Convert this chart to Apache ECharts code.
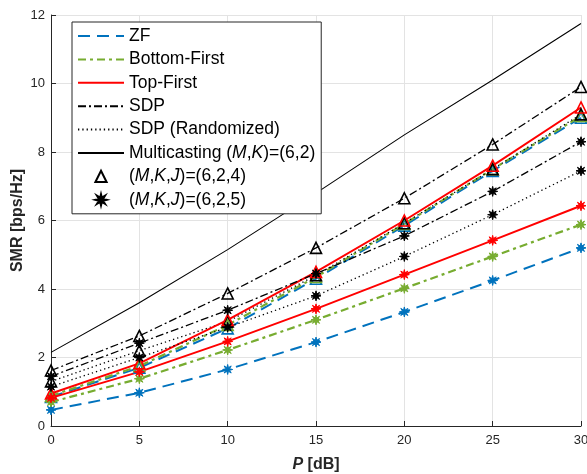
<!DOCTYPE html>
<html>
<head>
<meta charset="utf-8">
<script src="https://cdn.jsdelivr.net/npm/echarts@6/dist/echarts.min.js"></script>
<style>
html, body { margin: 0; padding: 0; background: #fff; }
#main { width: 587px; height: 474px; }
</style>
</head>
<body>
<div id="main"></div>
<script>
var powerDb = [0, 5, 10, 15, 20, 25, 30];

// multicasting upper bound
var multicast = [2.15, 3.6, 5.15, 6.8, 8.5, 10.1, 11.75];

// (M,K,J) = (6,2,4)
var zf4   = [0.85, 1.70, 2.85, 4.30, 5.85, 7.45, 9.00];
var bf4   = [0.88, 1.75, 2.95, 4.35, 5.90, 7.50, 9.05];
var tf4   = [0.95, 1.83, 3.10, 4.50, 6.00, 7.60, 9.30];
var sdp4  = [1.62, 2.63, 3.87, 5.20, 6.65, 8.22, 9.90];
var sdpr4 = [1.30, 2.20, 3.05, 4.40, 5.92, 7.50, 9.10];

// (M,K,J) = (6,2,5)
var zf5   = [0.47, 0.97, 1.65, 2.45, 3.33, 4.25, 5.20];
var bf5   = [0.70, 1.38, 2.22, 3.10, 4.02, 4.95, 5.88];
var tf5   = [0.82, 1.58, 2.47, 3.42, 4.42, 5.42, 6.43];
var sdp5  = [1.45, 2.42, 3.38, 4.45, 5.55, 6.85, 8.30];
var sdpr5 = [1.15, 2.00, 2.88, 3.80, 4.95, 6.17, 7.45];

var legendNames = ['ZF', 'Bottom-First', 'Top-First', 'SDP', 'SDP (Randomized)',
	'Multicasting (M,K)=(6,2)', '(M,K,J)=(6,2,4)', '(M,K,J)=(6,2,5)'];
var legendLabels = {
	'Multicasting (M,K)=(6,2)': 'Multicasting ({i|M},{i|K})=(6,2)',
	'(M,K,J)=(6,2,4)': '({i|M},{i|K},{i|J})=(6,2,4)',
	'(M,K,J)=(6,2,5)': '({i|M},{i|K},{i|J})=(6,2,5)'
};

var BLUE = '#0072BD', GREEN = '#77AC30', RED = '#FF0000', BLACK = '#000000';
var STAR = 'path://M10 0L11.53 6.3L17.07 2.93L13.7 8.47L20 10L13.7 11.53L17.07 17.07L11.53 13.7L10 20L8.47 13.7L2.93 17.07L6.3 11.53L0 10L6.3 8.47L2.93 2.93L8.47 6.3Z';

var styles = {
	zf:   {color: BLUE,  width: 2,   type: [12, 7]},
	bf:   {color: GREEN, width: 2.2, type: [8, 4, 3, 4]},
	tf:   {color: RED,   width: 2,   type: 'solid'},
	sdp:  {color: BLACK, width: 1.3, type: [8, 3, 2, 3]},
	sdpr: {color: BLACK, width: 1.3, type: [1.3, 3]}
};

function pairs(ys) {
	var out = [];
	for (var i = 0; i < powerDb.length; i++) {
		out.push([powerDb[i], ys[i]]);
	}
	return out;
}

function triSeries(name, key, ys) {
	var s = styles[key];
	return {
		name: name, type: 'line', data: pairs(ys),
		symbol: 'triangle', symbolSize: 11,
		itemStyle: {color: 'rgba(0,0,0,0)', borderColor: s.color, borderWidth: 1.6},
		lineStyle: {color: s.color, width: s.width, type: s.type}
	};
}

function starSeries(name, key, ys) {
	var s = styles[key];
	return {
		name: name, type: 'line', data: pairs(ys),
		symbol: STAR, symbolSize: 10,
		itemStyle: {color: s.color, borderColor: s.color, borderWidth: 1},
		lineStyle: {color: s.color, width: s.width, type: s.type}
	};
}

function legendLine(name, key) {
	var s = styles[key];
	return {
		name: name, type: 'line', data: [], symbol: 'none',
		itemStyle: {color: s.color},
		lineStyle: {color: s.color, width: s.width, type: s.type}
	};
}

var series = [
	{
		name: 'mc', type: 'line', data: pairs(multicast), symbol: 'none',
		lineStyle: {color: BLACK, width: 1.1}
	},
	triSeries('zf4', 'zf', zf4),
	triSeries('bf4', 'bf', bf4),
	triSeries('sdpr4', 'sdpr', sdpr4),
	triSeries('sdp4', 'sdp', sdp4),
	triSeries('tf4', 'tf', tf4),
	starSeries('zf5', 'zf', zf5),
	starSeries('bf5', 'bf', bf5),
	starSeries('tf5', 'tf', tf5),
	starSeries('sdp5', 'sdp', sdp5),
	starSeries('sdpr5', 'sdpr', sdpr5),
	// entries only for the legend
	legendLine('ZF', 'zf'),
	legendLine('Bottom-First', 'bf'),
	legendLine('Top-First', 'tf'),
	legendLine('SDP', 'sdp'),
	legendLine('SDP (Randomized)', 'sdpr'),
	{
		name: 'Multicasting (M,K)=(6,2)', type: 'line', data: [], symbol: 'none',
		itemStyle: {color: BLACK}, lineStyle: {color: BLACK, width: 1.1}
	},
	{
		name: '(M,K,J)=(6,2,4)', type: 'line', data: [], symbol: 'triangle',
		itemStyle: {color: 'rgba(0,0,0,0)', borderColor: BLACK, borderWidth: 2},
		lineStyle: {color: 'rgba(0,0,0,0)', width: 1}
	},
	{
		name: '(M,K,J)=(6,2,5)', type: 'line', data: [], symbol: STAR,
		itemStyle: {color: BLACK, borderColor: BLACK, borderWidth: 1},
		lineStyle: {color: 'rgba(0,0,0,0)', width: 1}
	}
];

var legendData = [];
for (var i = 0; i < legendNames.length; i++) {
	var item = {name: legendNames[i]};
	if (i < 6) {
		item.itemStyle = {color: 'rgba(0,0,0,0)', borderColor: 'rgba(0,0,0,0)', borderWidth: 0};
	}
	legendData.push(item);
}

var myChart = echarts.init(document.getElementById('main'));

var option = {
	animation: false,
	backgroundColor: '#fff',
	textStyle: {fontFamily: 'Liberation Sans, Arial, sans-serif'},
	grid: {left: 51, right: 6, top: 15, bottom: 48, containLabel: false, outerBoundsMode: 'none'},
	legend: {
		orient: 'vertical',
		left: 72, top: 22,
		data: legendData,
		itemWidth: 46, itemHeight: 14, itemGap: 5.4,
		padding: [5, 6, 5, 5],
		backgroundColor: '#fff',
		borderColor: '#262626', borderWidth: 1,
		borderRadius: 0,
		selectedMode: false,
		formatter: function (name) {
			return legendLabels[name] || name;
		},
		textStyle: {
			fontSize: 17.5, color: '#000', lineHeight: 17,
			fontFamily: 'Liberation Sans, Arial, sans-serif',
			rich: {i: {fontSize: 17.5, fontStyle: 'italic', color: '#000', lineHeight: 17}}
		}
	},
	xAxis: {
		type: 'value', min: 0, max: 30, interval: 5,
		name: '{i|P} [dB]', nameLocation: 'middle', nameGap: 31,
		nameTextStyle: {
			fontSize: 16, fontWeight: 'bold', color: '#262626',
			rich: {i: {fontSize: 16, fontWeight: 'bold', fontStyle: 'italic', color: '#262626'}}
		},
		axisLine: {onZero: false, lineStyle: {color: '#262626', width: 1}},
		axisTick: {inside: true, length: 5, lineStyle: {color: '#262626'}},
		axisLabel: {fontSize: 13, color: '#262626', margin: 8},
		splitLine: {show: true, lineStyle: {color: '#e3e3e3', width: 1}}
	},
	yAxis: {
		type: 'value', min: 0, max: 12, interval: 2,
		name: 'SMR [bps/Hz]', nameLocation: 'middle', nameGap: 25, nameRotate: 90,
		nameMoveOverlap: false,
		nameTextStyle: {fontSize: 16, fontWeight: 'bold', color: '#262626'},
		axisLine: {show: true, lineStyle: {color: '#262626', width: 1}},
		axisTick: {show: true, inside: true, length: 5, lineStyle: {color: '#262626'}},
		axisLabel: {fontSize: 13, color: '#262626', margin: 6},
		splitLine: {show: true, lineStyle: {color: '#e3e3e3', width: 1}}
	},
	series: series
};

myChart.setOption(option);
</script>
</body>
</html>
